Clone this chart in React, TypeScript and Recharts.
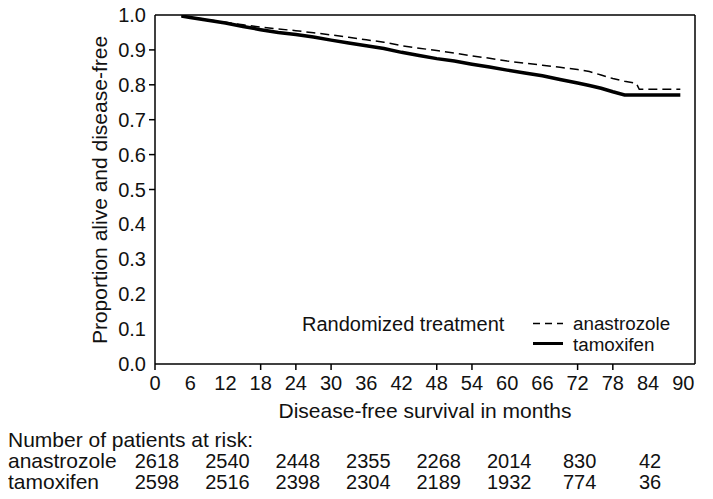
import React from "react";
import { LineChart, Line, XAxis, YAxis, ReferenceLine, Legend } from "recharts";

// ---- data ----
const MONTHS = [4.5, 6, 9, 12, 15, 18, 21, 24, 27, 30, 33, 36, 39, 42, 45, 48, 51, 54, 57, 60, 63, 66, 69, 72, 74, 76, 78, 80, 82, 82.5, 89.5];
const ANASTROZOLE = [0.997, 0.993, 0.987, 0.979, 0.972, 0.965, 0.96, 0.955, 0.949, 0.943, 0.936, 0.929, 0.922, 0.912, 0.905, 0.898, 0.891, 0.883, 0.876, 0.868, 0.862, 0.856, 0.85, 0.844, 0.838, 0.828, 0.818, 0.81, 0.804, 0.787, 0.787];
const TAMOXIFEN = [0.997, 0.993, 0.985, 0.977, 0.967, 0.958, 0.95, 0.944, 0.937, 0.928, 0.92, 0.912, 0.904, 0.893, 0.884, 0.875, 0.868, 0.859, 0.851, 0.842, 0.834, 0.826, 0.815, 0.805, 0.798, 0.79, 0.78, 0.771, 0.771, 0.771, 0.771];

const X_TICKS = [0, 6, 12, 18, 24, 30, 36, 42, 48, 54, 60, 66, 72, 78, 84, 90];
const X_TICK_MARKS = [0, 18, 24, 30, 48, 54, 72, 78];
const Y_TICKS = [0, 0.1, 0.2, 0.3, 0.4, 0.5, 0.6, 0.7, 0.8, 0.9, 1.0];
const Y_TICK_MARKS = [0.5, 0.6, 0.7, 0.8, 0.9];

const RISK_MONTHS = [0, 12, 24, 36, 48, 60, 72, 84];
const RISK_ANASTROZOLE = [2618, 2540, 2448, 2355, 2268, 2014, 830, 42];
const RISK_TAMOXIFEN = [2598, 2516, 2398, 2304, 2189, 1932, 774, 36];

const SERIES_NAMES = { anastrozole: "anastrozole", tamoxifen: "tamoxifen" };
const X_TITLE = "Disease-free survival in months";
const Y_TITLE = "Proportion alive and disease-free";
const RISK_TITLE = "Number of patients at risk:";
const LEGEND_TITLE = "Randomized treatment";

const data = MONTHS.map((m, i) => ({ month: m, anastrozole: ANASTROZOLE[i], tamoxifen: TAMOXIFEN[i] }));

const FONT = "'Liberation Sans', Arial, Helvetica, sans-serif";
const W = 697;
const H = 499;

function XTick(props: any) {
  const { x, y, payload } = props;
  const v = payload.value;
  const axisY = y - 8;
  return (
    <g>
      {X_TICK_MARKS.includes(v) && (
        <line x1={x} x2={x} y1={axisY} y2={axisY + 6} stroke="#000" strokeWidth={1.5} />
      )}
      <text x={x} y={axisY} dy={26} textAnchor="middle" fontSize={20} fill="#111" fontFamily={FONT}>
        {v}
      </text>
    </g>
  );
}

function YTick(props: any) {
  const { x, y, payload } = props;
  const v = payload.value;
  const axisX = x + 8;
  return (
    <g>
      {Y_TICK_MARKS.some((t) => Math.abs(t - v) < 1e-6) && (
        <line x1={axisX - 6} x2={axisX} y1={y} y2={y} stroke="#000" strokeWidth={1.5} />
      )}
      <text x={axisX - 9} y={y} dy={7} textAnchor="end" fontSize={20} fill="#111" fontFamily={FONT}>
        {v.toFixed(1)}
      </text>
    </g>
  );
}

function makeRiskTick(values: number[]) {
  return function RiskTick(props: any) {
    const { x, y, payload } = props;
    const idx = RISK_MONTHS.indexOf(payload.value);
    return (
      <text x={x + 2} y={y} dy={14} textAnchor="middle" fontSize={20} fill="#111" fontFamily={FONT}>
        {idx >= 0 ? values[idx] : ""}
      </text>
    );
  };
}

function LegendContent() {
  return (
    <svg width={410} height={50} style={{ overflow: "visible" }}>
      <text x={9} y={23} fontSize={20} fill="#111" fontFamily={FONT}>{LEGEND_TITLE}</text>
      <line x1={240} x2={270} y1={15.5} y2={15.5} stroke="#000" strokeWidth={1.5} strokeDasharray="7 5" />
      <line x1={240} x2={270} y1={35.5} y2={35.5} stroke="#000" strokeWidth={3} />
      <text x={280} y={21.5} fontSize={18.8} fill="#111" fontFamily={FONT}>{SERIES_NAMES.anastrozole}</text>
      <text x={280} y={42.5} fontSize={18.8} fill="#111" fontFamily={FONT}>{SERIES_NAMES.tamoxifen}</text>
    </svg>
  );
}

export default function App() {
  return (
    <div style={{ position: "relative", width: W, height: 483, fontFamily: FONT, background: "#fff", overflow: "visible" }}>
      <div style={{ position: "absolute", left: 0, top: -8, width: W, height: H }}>
        <LineChart width={W} height={H} data={data} margin={{ top: 15, right: 10, left: 0, bottom: 0 }}>
          <XAxis
            dataKey="month"
            type="number"
            domain={[0, 92]}
            ticks={X_TICKS}
            interval={0}
            height={90}
            tickSize={6}
            tickMargin={2}
            tickLine={false}
            axisLine={{ stroke: "#000", strokeWidth: 1.5 }}
            tick={<XTick />}
            allowDataOverflow
          />
          <XAxis
            xAxisId="riskA"
            dataKey="month"
            type="number"
            domain={[0, 92]}
            ticks={RISK_MONTHS}
            interval={0}
            height={21}
            tickSize={0}
            tickMargin={0}
            tickLine={false}
            axisLine={false}
            tick={makeRiskTick(RISK_ANASTROZOLE)}
            allowDataOverflow
          />
          <XAxis
            xAxisId="riskB"
            dataKey="month"
            type="number"
            domain={[0, 92]}
            ticks={RISK_MONTHS}
            interval={0}
            height={24}
            tickSize={0}
            tickMargin={0}
            tickLine={false}
            axisLine={false}
            tick={makeRiskTick(RISK_TAMOXIFEN)}
            allowDataOverflow
          />
          <YAxis
            type="number"
            domain={[0, 1]}
            ticks={Y_TICKS}
            interval={0}
            width={147}
            tickSize={6}
            tickMargin={2}
            tickLine={false}
            axisLine={{ stroke: "#000", strokeWidth: 1.5 }}
            tick={<YTick />}
            allowDataOverflow
          />
          <ReferenceLine y={1} stroke="#000" strokeWidth={1.5} ifOverflow="extendDomain" />
          <ReferenceLine x={92} stroke="#000" strokeWidth={1.5} ifOverflow="extendDomain" />
          <Line
            dataKey="anastrozole"
            name={SERIES_NAMES.anastrozole}
            type="linear"
            stroke="#000"
            strokeWidth={1.5}
            strokeDasharray="9 5"
            dot={false}
            isAnimationActive={false}
          />
          <Line
            dataKey="tamoxifen"
            name={SERIES_NAMES.tamoxifen}
            type="linear"
            stroke="#000"
            strokeWidth={3.5}
            dot={false}
            isAnimationActive={false}
          />
          <Legend
            layout="vertical"
            align="center"
            verticalAlign="middle"
            content={<LegendContent />}
            wrapperStyle={{ position: "absolute", left: 285, top: 308, width: 410, height: 50 }}
          />
        </LineChart>
      </div>
      <svg width={W} height={491} style={{ position: "absolute", left: 0, top: 0, pointerEvents: "none" }}>
        <text
          x={91}
          y={182}
          transform="rotate(-90, 91, 182)"
          textAnchor="middle"
          dominantBaseline="central"
          fontSize={21}
          fill="#111"
          fontFamily={FONT}
        >
          {Y_TITLE}
        </text>
        <text x={417} y={410} textAnchor="middle" fontSize={21} fill="#111" fontFamily={FONT}>
          {X_TITLE}
        </text>
        <text x={0} y={439} fontSize={21} fill="#111" fontFamily={FONT}>
          {RISK_TITLE}
        </text>
        <text x={0} y={460} fontSize={21} fill="#111" fontFamily={FONT}>
          {SERIES_NAMES.anastrozole}
        </text>
        <text x={0} y={481} fontSize={21} fill="#111" fontFamily={FONT}>
          {SERIES_NAMES.tamoxifen}
        </text>
      </svg>
    </div>
  );
}
